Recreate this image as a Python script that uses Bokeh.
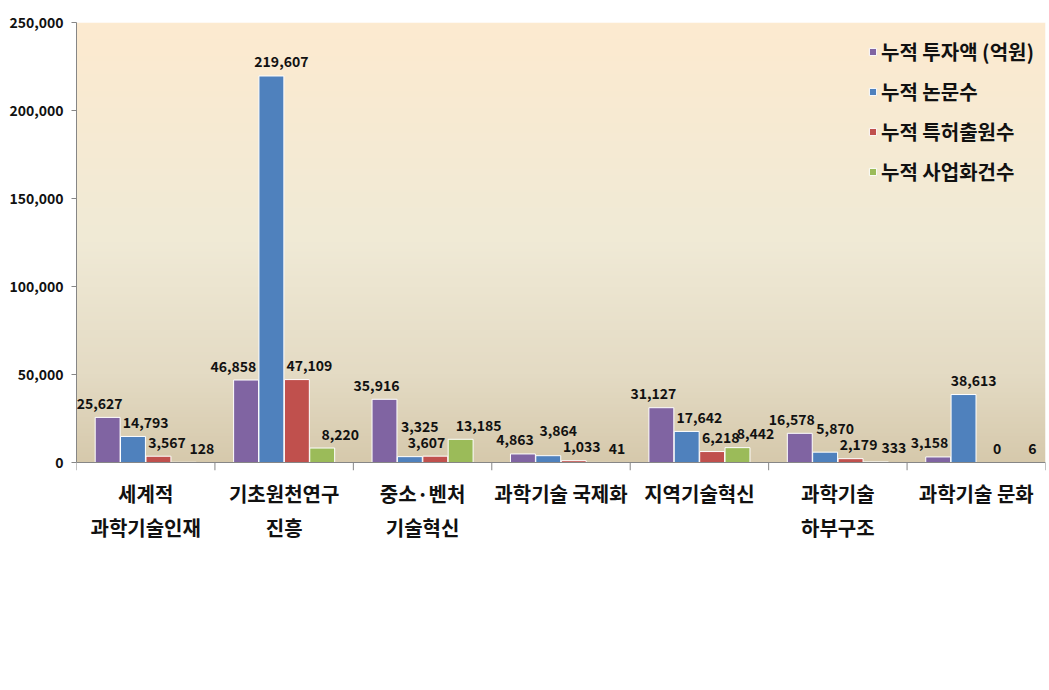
import numpy as np
from bokeh.plotting import figure
from bokeh.models import (Range1d, FactorRange, FixedTicker, NumeralTickFormatter,
                          ColumnDataSource, Span, CategoricalAxis)
from bokeh.core.properties import value
from bokeh.embed import file_html
from bokeh.resources import INLINE

# ---------------- data ----------------
categories = ["세계적\n과학기술인재", "기초원천연구\n진흥", "중소·벤처\n기술혁신", "과학기술 국제화",
              "지역기술혁신", "과학기술\n하부구조", "과학기술 문화"]
series_names = ["누적 투자액 (억원)", "누적 논문수", "누적 특허출원수", "누적 사업화건수"]
investment = [25627, 46858, 35916, 4863, 31127, 16578, 3158]
papers = [14793, 219607, 3325, 3864, 17642, 5870, 38613]
patents = [3567, 47109, 3607, 1033, 6218, 2179, 0]
commercial = [128, 8220, 13185, 41, 8442, 333, 6]
y_ticks = [0, 50000, 100000, 150000, 200000, 250000]
Y_MAX = 250000

series_values = [investment, papers, patents, commercial]
colors = ["#8064A2", "#4F81BD", "#C0504D", "#9BBB59"]
bar_offsets = [-0.275, -0.092, 0.092, 0.275]
BAR_W = 0.18
label_x_offsets = [-8, 10, 8, 18]

FONT = "Noto Sans CJK KR"
n = len(categories)

# layout (pixels)
FRAME_W = 969
PLOT_H = 440          # height from zero line to top
TICK_PX = 8           # room below zero line for the category tick marks
Y_START = -Y_MAX * TICK_PX / PLOT_H
LABEL_FS = 14
LABEL_GAP = 14
CAT_PX = FRAME_W / n

p = figure(width=1049, height=690, x_range=FactorRange(factors=categories, range_padding=0),
           y_range=Range1d(Y_START, Y_MAX),
           output_backend="svg", toolbar_location=None, x_axis_location=None,
           min_border_left=76, min_border_right=4, min_border_top=22,
           min_border_bottom=690 - 22 - PLOT_H - TICK_PX)
p.outline_line_color = None
p.background_fill_color = "white"
p.border_fill_color = "white"
for g in p.grid:
    g.visible = False

# ---------------- gradient background ----------------
N = 256
t = np.linspace(0, 1, N)
stops_t = [0.0, 0.2, 0.5, 1.0]
stops_c = np.array([[214, 201, 172], [228, 219, 196], [240, 234, 214], [253, 235, 208]])
rgb = np.stack([np.interp(t, stops_t, stops_c[:, k]) for k in range(3)], axis=1)
img = np.empty((N, 1), dtype=np.uint32)
view = img.view(dtype=np.uint8).reshape((N, 1, 4))
view[:, 0, 0] = rgb[:, 0]
view[:, 0, 1] = rgb[:, 1]
view[:, 0, 2] = rgb[:, 2]
view[:, 0, 3] = 255
p.image_rgba(image=[img], x=0, y=0, dw=n, dh=Y_MAX)

# ---------------- label placement (avoid overlaps with bars and labels) ----------------
def text_w(s):
    return sum(4.0 if c == "," else 7.8 for c in s)

texts = [["{:,}".format(v) for v in vals] for vals in series_values]
xoffs = [[0.0] * n for _ in series_values]
yoffs = [[0.0] * n for _ in series_values]
placed = {i: [] for i in range(n)}
half_h = LABEL_FS / 2
for s in reversed(range(len(series_values))):
    for i in range(n):
        bar_cx = (i + 0.5 + bar_offsets[s]) * CAT_PX
        cx = bar_cx + label_x_offsets[s]
        base = series_values[s][i] * PLOT_H / Y_MAX
        cy = base + LABEL_GAP
        w = text_w(texts[s][i])
        # keep clear of neighbouring taller bars
        for o in range(len(series_values)):
            if o == s:
                continue
            ob_cx = (i + 0.5 + bar_offsets[o]) * CAT_PX
            ob_half = BAR_W * CAT_PX / 2
            ob_top = series_values[o][i] * PLOT_H / Y_MAX
            if cy - half_h < ob_top:
                if ob_cx > bar_cx and cx + w / 2 > ob_cx - ob_half - 4:
                    cx = ob_cx - ob_half - 4 - w / 2
                elif ob_cx < bar_cx and cx - w / 2 < ob_cx + ob_half + 4:
                    cx = ob_cx + ob_half + 4 + w / 2
        moved = True
        while moved:
            moved = False
            for (ox, oy, ow) in placed[i]:
                if abs(cx - ox) < (w + ow) / 2 - 3 and abs(cy - oy) < LABEL_FS + 1:
                    cy = oy + LABEL_FS + 2
                    moved = True
        placed[i].append((cx, cy, w))
        xoffs[s][i] = cx - bar_cx
        yoffs[s][i] = -(cy - base)

# ---------------- bars ----------------
sources = []
for s, (vals, name, col, off) in enumerate(zip(series_values, series_names, colors, bar_offsets)):
    xs = [i + 0.5 + off for i in range(n)]
    src = ColumnDataSource(dict(x=xs, top=vals, text=texts[s], xo=xoffs[s], yo=yoffs[s]))
    sources.append(src)
    p.vbar(x="x", top="top", bottom=0, width=BAR_W, source=src, fill_color=col,
           line_color="white", line_width=1, legend_label=name)

# ---------------- value labels (drawn above all bars) ----------------
for src in sources:
    p.text(x="x", y="top", text="text", source=src, x_offset="xo", y_offset="yo",
           text_align="center", text_baseline="middle", text_font=value(FONT),
           text_font_style="bold", text_font_size=f"{LABEL_FS}px", text_color="#111111")

# ---------------- x axis line and boundary ticks ----------------
p.add_layout(Span(location=0, dimension="width", line_color="#868686", line_width=1))
bounds = list(range(n + 1))
p.segment(x0=bounds, y0=[0] * len(bounds), x1=bounds, y1=[Y_START] * len(bounds),
          line_color="#868686", line_width=1)

# ---------------- y axis ----------------
ya = p.yaxis[0]
ya.ticker = FixedTicker(ticks=y_ticks)
ya.formatter = NumeralTickFormatter(format="0,0")
ya.bounds = (0, Y_MAX)
ya.major_label_text_font = FONT
ya.major_label_text_font_style = "bold"
ya.major_label_text_font_size = "14px"
ya.major_label_text_color = "#111111"
ya.axis_line_color = "#868686"
ya.major_tick_line_color = "#868686"
ya.major_tick_in = 0
ya.major_tick_out = 5
ya.minor_tick_line_color = None
ya.major_label_standoff = 8

# ---------------- category axis ----------------
xa = CategoricalAxis(axis_line_color=None, major_tick_line_color=None,
                     minor_tick_line_color=None, major_label_text_font=FONT,
                     major_label_text_font_style="bold", major_label_text_font_size="20px",
                     major_label_text_color="#111111", major_label_standoff=2)
p.add_layout(xa, "below")

# ---------------- legend ----------------
lg = p.legend[0]
lg.location = (792, 284)
lg.background_fill_alpha = 0
lg.border_line_color = None
lg.label_text_font = FONT
lg.label_text_font_style = "bold"
lg.label_text_font_size = "20px"
lg.label_text_color = "#111111"
lg.glyph_width = 9
lg.glyph_height = 9
lg.label_standoff = 4
lg.spacing = 11
lg.padding = 0
lg.margin = 0

open("out.html", "w").write(file_html(p, INLINE))
